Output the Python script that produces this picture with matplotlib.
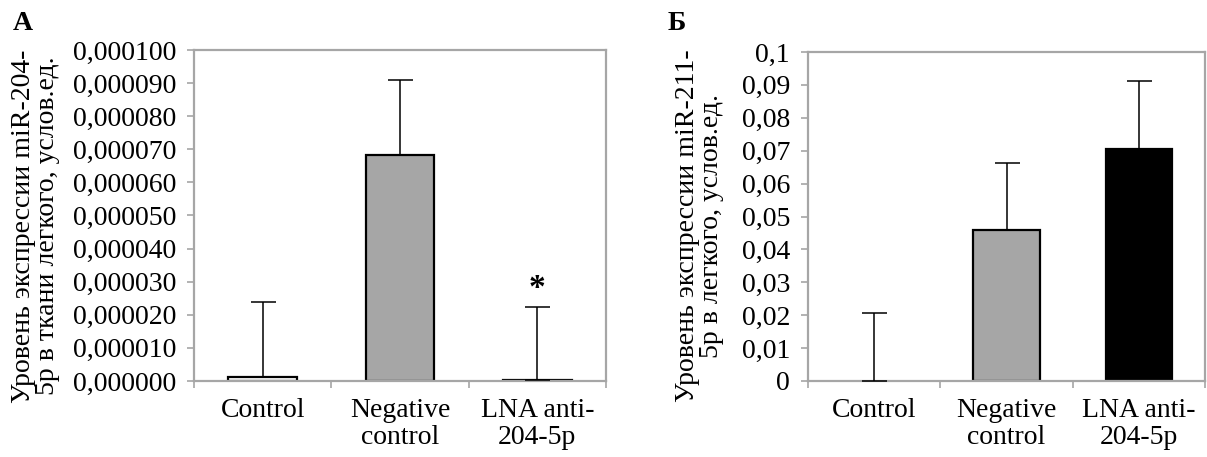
import numpy as np
import matplotlib
matplotlib.use("Agg")
import matplotlib.pyplot as plt
from matplotlib.ticker import FixedLocator

plt.rcParams["font.family"] = ["Liberation Serif", "DejaVu Serif"]

categories = ["Control", "Negative\ncontrol", "LNA anti-\n204-5p"]

# panel A: miR-204-5p
a_values = [0.0000013, 0.0000682, 0.0000003]
a_err = [0.0000226, 0.0000226, 0.0000221]
a_ticks = [i * 0.00001 for i in range(11)]
a_ticklabels = ["0,%06d" % (i * 10) for i in range(11)]

# panel B: miR-211-5p
b_values = [0.0, 0.0459, 0.0705]
b_err = [0.0207, 0.0203, 0.0207]
b_ticks = [i * 0.01 for i in range(11)]
b_ticklabels = ["0"] + ["0,%02d" % i for i in range(1, 10)] + ["0,1"]

colors = ["white", "#a6a6a6", "black"]
grey = "#a6a6a6"
fs = 20

fig = plt.figure(figsize=(12.07, 4.57), dpi=100)
W, H = 1207, 457


def panel(rect, values, err, ticks, ticklabels, ylabel, label_right):
    l, t, r, b = rect
    ax = fig.add_axes([l / W, 1 - b / H, (r - l) / W, (b - t) / H])
    x = np.arange(len(values))
    lws = [1.6 if v > 0 else 0 for v in values]
    ax.bar(x, values, width=0.5, color=colors, edgecolor="black", linewidth=lws, zorder=2)
    ax.errorbar(x, values, yerr=[np.zeros(len(err)), err], fmt="none",
                ecolor="black", elinewidth=1.1, capsize=9, capthick=1.1, zorder=3)
    ax.set_xlim(-0.5, 2.5)
    ax.set_ylim(ticks[0], ticks[-1])
    ax.set_yticks(ticks)
    ax.set_yticklabels(ticklabels, fontsize=fs)
    ax.set_xticks(x)
    ax.set_xticklabels(categories, fontsize=fs, linespacing=1.1)
    ax.xaxis.set_minor_locator(FixedLocator([-0.5, 0.5, 1.5, 2.5]))
    ax.tick_params(axis="x", which="major", length=0, pad=12)
    ax.tick_params(axis="x", which="minor", length=5, width=1.2, color=grey, direction="out")
    ax.tick_params(axis="y", length=5, width=1.2, color=grey, pad=8)
    for s in ax.spines.values():
        s.set_color(grey)
        s.set_linewidth(1.6)
    ax.set_ylabel(ylabel, fontsize=fs, linespacing=0.95)
    ax.yaxis.set_label_coords((label_right - l) / (r - l), (b - 226) / (b - t))
    return ax


axA = panel((194, 50, 606, 381), a_values, a_err, a_ticks, a_ticklabels,
            "Уровень экспрессии miR-204-\n5р в ткани легкого, услов.ед.", 60)
axA.text(2, 0.0000278, "*", ha="center", va="center", fontsize=24, fontweight="bold")
fig.text(13 / W, 1 - 24 / H, "А", fontsize=20, fontweight="bold", va="center")

axB = panel((808, 52, 1205, 381), b_values, b_err, b_ticks, b_ticklabels,
            "Уровень экспрессии miR-211-\n5р в легкого, услов.ед.", 724)
fig.text(668 / W, 1 - 23 / H, "Б", fontsize=20, fontweight="bold", va="center")

fig.savefig("out.png", dpi=100)
